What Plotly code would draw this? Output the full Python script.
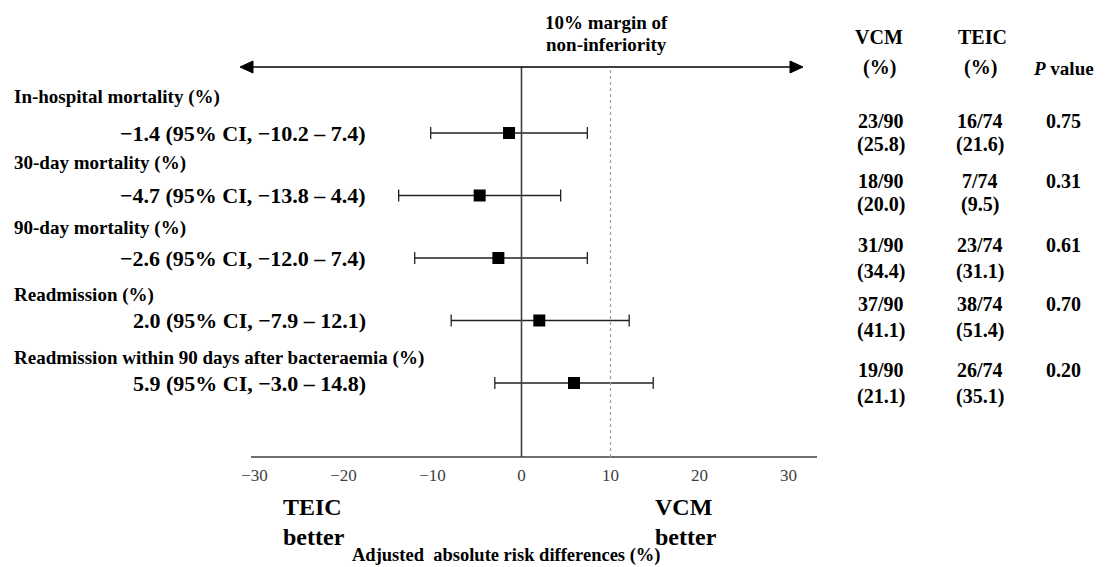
import plotly.graph_objects as go

# ---------------- data ----------------
outcomes = [
    "In-hospital mortality (%)",
    "30-day mortality (%)",
    "90-day mortality (%)",
    "Readmission (%)",
    "Readmission within 90 days after bacteraemia (%)",
]
risk_diff = [-1.4, -4.7, -2.6, 2.0, 5.9]
ci_low = [-10.2, -13.8, -12.0, -7.9, -3.0]
ci_high = [7.4, 4.4, 7.4, 12.1, 14.8]
vcm_n = ["23/90", "18/90", "31/90", "37/90", "19/90"]
vcm_pct = ["(25.8)", "(20.0)", "(34.4)", "(41.1)", "(21.1)"]
teic_n = ["16/74", "7/74", "23/74", "38/74", "26/74"]
teic_pct = ["(21.6)", "(9.5)", "(31.1)", "(51.4)", "(35.1)"]
p_values = ["0.75", "0.31", "0.61", "0.70", "0.20"]
tick_vals = [-30, -20, -10, 0, 10, 20, 30]
tick_text = ["\u221230", "\u221220", "\u221210", "0", "10", "20", "30"]
margin_value = 10

# ---------------- layout helpers ----------------
OFF = 8  # default page body margin
W, H = 1105, 567
FONT = "Liberation Serif, Times New Roman, serif"


def px(x):
    return (x - OFF) / W


def py(y):
    return 1 - (y - OFF) / H


def fmt(v):
    return ("\u2212" if v < 0 else "") + f"{abs(v):.1f}"


rows = list(range(len(outcomes)))
label_y_px = [97, 163, 228, 295, 358]
col_y_px = [(121, 145), (181, 205), (245, 271), (304, 330), (370, 396)]

fig = go.Figure()

fig.add_trace(go.Scatter(
    x=risk_diff, y=rows, mode="markers",
    marker=dict(symbol="square", size=12, color="black"),
    error_x=dict(type="data", symmetric=False,
                 array=[h - e for h, e in zip(ci_high, risk_diff)],
                 arrayminus=[e - l for e, l in zip(risk_diff, ci_low)],
                 color="#222222", thickness=1.3, width=6),
    showlegend=False, hoverinfo="skip",
))

ann = []
# row labels & estimates
for i, name in enumerate(outcomes):
    ann.append(dict(x=px(12), y=py(label_y_px[i]), xref="paper", yref="paper",
                    text=f"<b>{name}</b>", xanchor="left", yanchor="middle",
                    showarrow=False, font=dict(family=FONT, size=19, color="black")))
    txt = f"{fmt(risk_diff[i])} (95% CI, {fmt(ci_low[i])} \u2013 {fmt(ci_high[i])})"
    ann.append(dict(x=px(368), y=i, xref="paper", yref="y",
                    text=f"<b>{txt}</b>", xanchor="right", yanchor="middle",
                    showarrow=False, font=dict(family=FONT, size=22, color="black")))
    y1, y2 = col_y_px[i]
    for xc, t in ((881, vcm_n[i]), (980, teic_n[i]), (1063, p_values[i])):
        ann.append(dict(x=px(xc), y=py(y1), xref="paper", yref="paper",
                        text=f"<b>{t}</b>", xanchor="center", yanchor="middle",
                        showarrow=False, font=dict(family=FONT, size=20, color="black")))
    for xc, t in ((881, vcm_pct[i]), (980, teic_pct[i])):
        ann.append(dict(x=px(xc), y=py(y2), xref="paper", yref="paper",
                        text=f"<b>{t}</b>", xanchor="center", yanchor="middle",
                        showarrow=False, font=dict(family=FONT, size=20, color="black")))

# headers
headers = [
    (879, 37, "VCM", 20), (879, 67, "(%)", 20),
    (982, 37, "TEIC", 20), (980, 67, "(%)", 20),
    (1063, 68, "<i>P</i> value", 19),
    (606, 22, "10% margin of", 19), (606, 45, "non-inferiority", 19),
]
for xc, yc, t, size in headers:
    ann.append(dict(x=px(xc), y=py(yc), xref="paper", yref="paper",
                    text=f"<b>{t}</b>", xanchor="center", yanchor="middle",
                    showarrow=False, font=dict(family=FONT, size=size, color="black")))

# bottom texts
for xl, yc, t in ((281, 507, "TEIC"), (281, 537, "better"),
                  (653, 507, "VCM"), (653, 537, "better")):
    ann.append(dict(x=px(xl), y=py(yc), xref="paper", yref="paper",
                    text=f"<b>{t}</b>", xanchor="left", yanchor="middle",
                    showarrow=False, font=dict(family=FONT, size=24, color="black")))
ann.append(dict(x=px(506), y=py(555), xref="paper", yref="paper",
                text="<b>Adjusted  absolute risk differences (%)</b>",
                xanchor="center", yanchor="middle", showarrow=False,
                font=dict(family=FONT, size=18.5, color="black")))

AX_TOP, AX_BOT = 67, 457
shapes = [
    # axis line
    dict(type="line", xref="paper", yref="paper", x0=px(251), x1=px(817),
         y0=py(AX_BOT), y1=py(AX_BOT), line=dict(color="#404040", width=1.5)),
    # zero line
    dict(type="line", xref="x", yref="paper", x0=0, x1=0,
         y0=py(AX_BOT), y1=py(AX_TOP), line=dict(color="#404040", width=1.6)),
    # margin line
    dict(type="line", xref="x", yref="paper", x0=margin_value, x1=margin_value,
         y0=py(AX_BOT), y1=py(AX_TOP), line=dict(color="#a0a0a0", width=1.3, dash="dot")),
    # arrow line
    dict(type="line", xref="paper", yref="paper", x0=px(250), x1=px(793),
         y0=py(AX_TOP), y1=py(AX_TOP), line=dict(color="black", width=1.5)),
    # arrow heads
    dict(type="path", xref="paper", yref="paper",
         path=f"M {px(240)} {py(67)} L {px(253)} {py(61)} L {px(253)} {py(73)} Z",
         fillcolor="black", line=dict(color="black", width=1)),
    dict(type="path", xref="paper", yref="paper",
         path=f"M {px(803)} {py(67)} L {px(790)} {py(61)} L {px(790)} {py(73)} Z",
         fillcolor="black", line=dict(color="black", width=1)),
]

# y range so rows land at pixel 133 .. 383 (62.5 px per row)
row0_px, row_step = 133, 62.5
y_top = -(row0_px - AX_TOP) / row_step
y_bot = (AX_BOT - row0_px) / row_step

fig.update_layout(
    width=W, height=H,
    margin=dict(l=0, r=0, t=0, b=0, pad=0, autoexpand=False),
    paper_bgcolor="white", plot_bgcolor="white",
    xaxis=dict(domain=[px(254.5), px(788.5)], range=[-30, 30],
               tickvals=tick_vals, ticktext=tick_text, showgrid=False,
               zeroline=False, showline=False, ticks="outside", ticklen=3,
               tickcolor="rgba(0,0,0,0)", automargin=False,
               tickfont=dict(family=FONT, size=17, color="#404040")),
    yaxis=dict(domain=[py(AX_BOT), py(AX_TOP)], range=[y_bot, y_top],
               visible=False, showgrid=False, zeroline=False, automargin=False),
    annotations=ann, shapes=shapes,
)

fig.write_html("out.html")
